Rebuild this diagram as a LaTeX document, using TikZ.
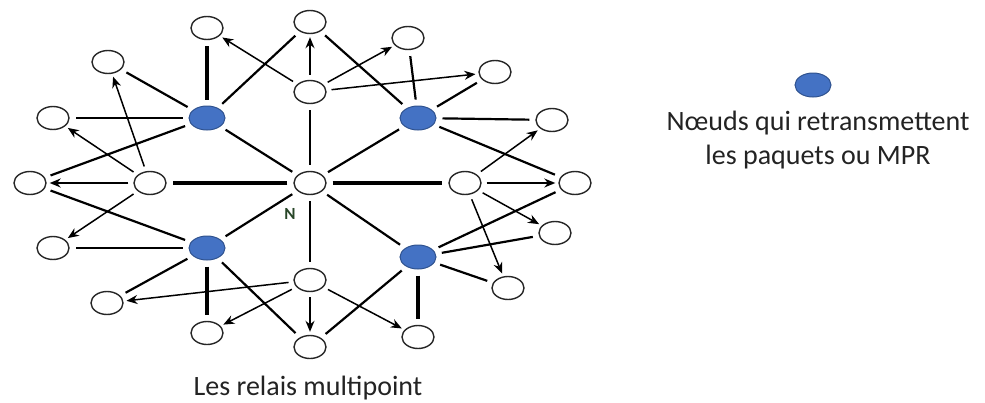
\documentclass[tikz,border=0pt]{standalone}
\usepackage{fontspec}
\setmainfont{Carlito}
\usetikzlibrary{shapes.geometric, arrows.meta}
\definecolor{mprblue}{RGB}{68,114,196}
\definecolor{mprline}{RGB}{47,82,143}
\definecolor{textgray}{RGB}{35,35,35}
\definecolor{labelgreen}{RGB}{40,70,40}
\tikzstyle{host} = [ellipse, minimum width = 32pt, minimum height = 23pt, inner sep = 0pt, draw = black!85, line width = 1.4pt, fill = white]
\tikzstyle{mpr} = [ellipse, minimum width = 36pt, minimum height = 24pt, inner sep = 0pt, draw = mprline, line width = 1pt, fill = mprblue]
\tikzstyle{link} = [line width = 2.2pt, shorten <=6pt, shorten >=6pt]
\tikzstyle{strong} = [line width = 3.6pt, shorten <=6pt, shorten >=6pt]
\tikzstyle{arrow} = [line width = 1.5pt, -{Stealth[length=11pt, width=9pt]}, shorten <=5pt, shorten >=3pt]
\tikzstyle{caption} = [text = textgray, align = center, font = \fontsize{28}{34}\selectfont]

\begin{document}
\begin{tikzpicture}[x = 1pt, y = -1pt]
    \useasboundingbox (0,0) rectangle (985,402);

    % relais multipoint
    \node(mpr1)[mpr] at (207,118){};
    \node(mpr2)[mpr] at (418,118){};
    \node(mpr3)[mpr] at (207,248){};
    \node(mpr4)[mpr] at (418,257){};

    % noeud N et ses voisins
    \node(n)[host] at (310,183){};
    \node(up)[host] at (310,92){};
    \node(left)[host] at (150,183){};
    \node(right)[host] at (465,183){};
    \node(down)[host] at (310,280){};

    % voisins a deux sauts
    \node(h1)[host] at (310,22){};
    \node(h2)[host] at (207,28){};
    \node(h3)[host] at (108,62){};
    \node(h4)[host] at (53,118){};
    \node(h5)[host] at (30,183){};
    \node(h6)[host] at (53,248){};
    \node(h7)[host] at (107,303){};
    \node(h8)[host] at (207,333){};
    \node(h9)[host] at (310,347){};
    \node(h10)[host] at (418,337){};
    \node(h11)[host] at (508,288){};
    \node(h12)[host] at (555,233){};
    \node(h13)[host] at (575,183){};
    \node(h14)[host] at (552,120){};
    \node(h15)[host] at (495,72){};
    \node(h16)[host] at (408,38){};

    \node(lblN)[text = labelgreen, font = \fontsize{17}{17}\selectfont\bfseries] at (290,214){N};

    % legende
    \node(key)[mpr] at (813,85){};
    \node(keytext)[caption] at (818,140){Nœuds qui retransmettent\\les paquets ou MPR};
    \node(title)[caption] at (308,388){Les relais multipoint};

    % liens
    \draw[strong](n)--(left);
    \draw[strong](n)--(right);
    \draw[link](n)--(up);
    \draw[link](n)--(down);
    \draw[link](mpr1)--(n);
    \draw[link](mpr2)--(n);
    \draw[link](mpr3)--(n);
    \draw[link](mpr4)--(n);

    \draw[strong](mpr1)--(h2);
    \draw[link](mpr1)--(h1);
    \draw[link](mpr1)--(h3);
    \draw[link](mpr1)--(h4);
    \draw[link](mpr1)--(h5);

    \draw[link](mpr2)--(h1);
    \draw[link](mpr2)--(h16);
    \draw[link](mpr2)--(h15);
    \draw[link](mpr2)--(h14);
    \draw[link](mpr2)--(h13);

    \draw[link](mpr3)--(h5);
    \draw[link](mpr3)--(h6);
    \draw[link](mpr3)--(h7);
    \draw[strong](mpr3)--(h8);
    \draw[link](mpr3)--(h9);

    \draw[link](mpr4)--(h13);
    \draw[link](mpr4)--(h12);
    \draw[link](mpr4)--(h11);
    \draw[strong](mpr4)--(h10);
    \draw[link](mpr4)--(h9);

    % retransmissions
    \draw[arrow](up)--(h2);
    \draw[arrow](up)--(h1);
    \draw[arrow](up)--(h16);
    \draw[arrow](up)--(h15);
    \draw[arrow](left)--(h3);
    \draw[arrow](left)--(h4);
    \draw[arrow](left)--(h5);
    \draw[arrow](left)--(h6);
    \draw[arrow](right)--(h14);
    \draw[arrow](right)--(h13);
    \draw[arrow](right)--(h12);
    \draw[arrow](right)--(h11);
    \draw[arrow](down)--(h7);
    \draw[arrow](down)--(h8);
    \draw[arrow](down)--(h9);
    \draw[arrow](down)--(h10);
\end{tikzpicture}
\end{document}
